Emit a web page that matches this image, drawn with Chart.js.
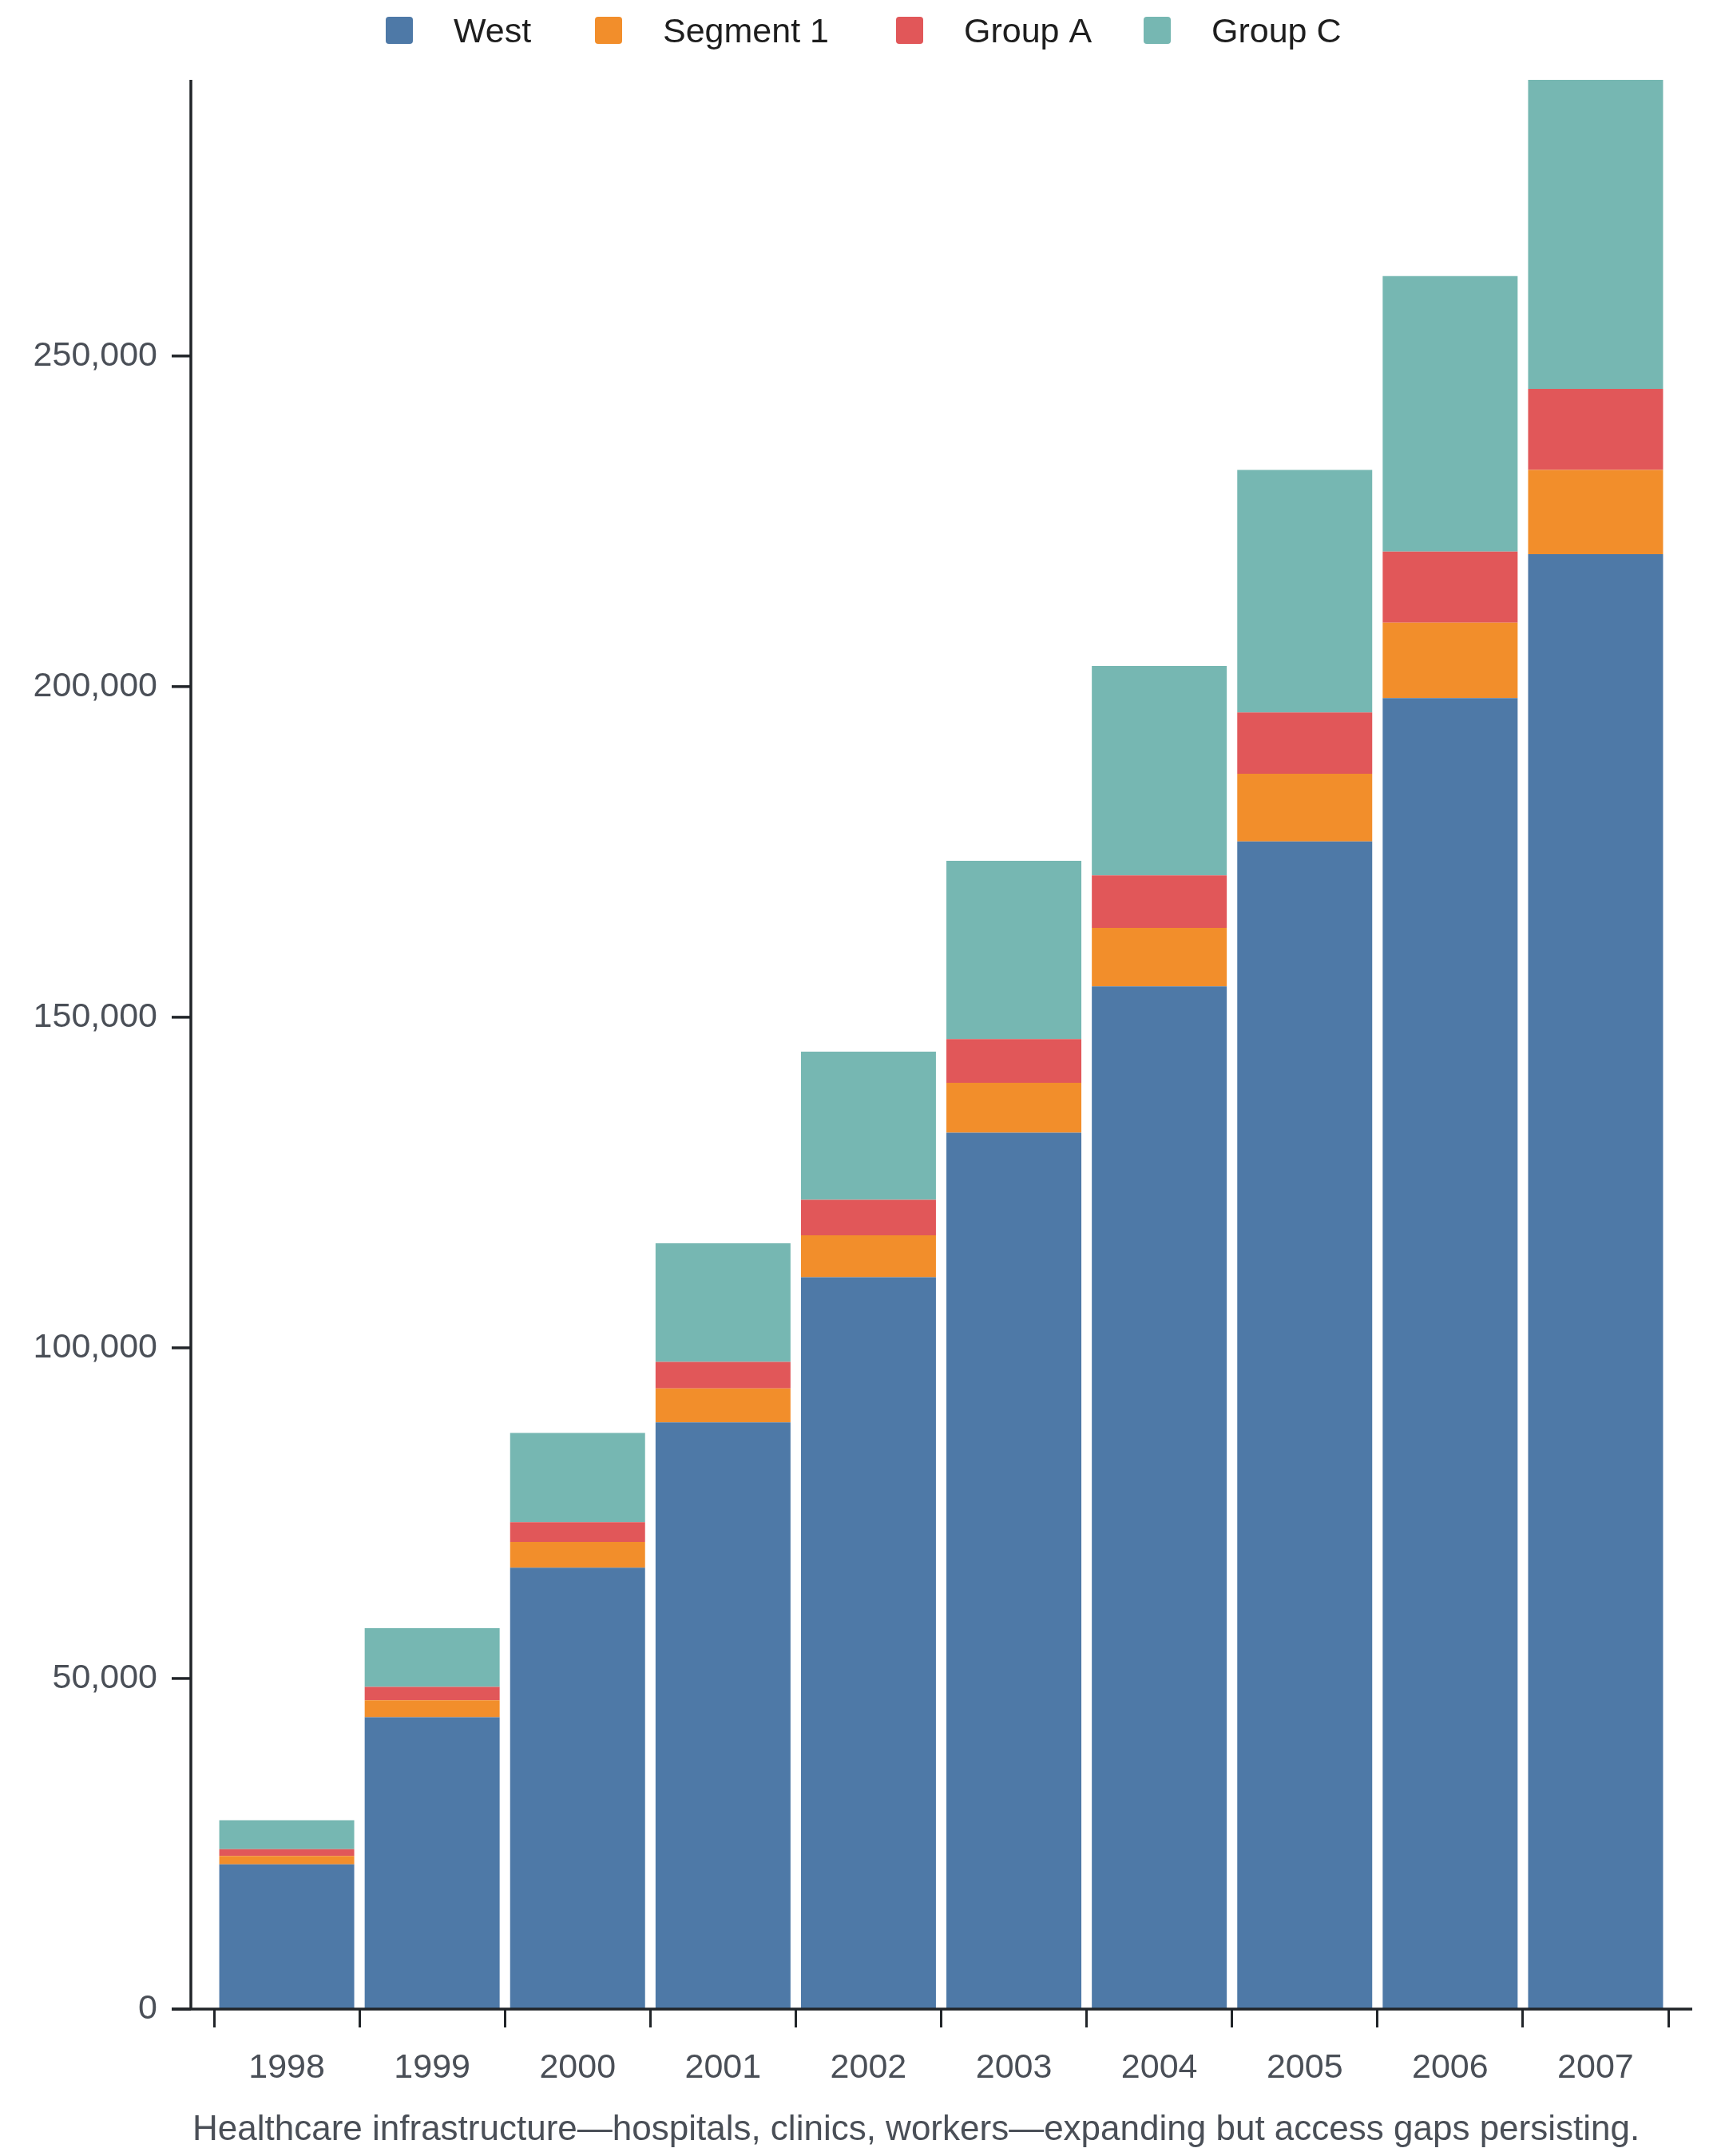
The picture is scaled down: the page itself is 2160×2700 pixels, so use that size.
<!DOCTYPE html>
<html>
<head>
<meta charset="utf-8">
<script src="https://cdn.jsdelivr.net/npm/chart.js@4.4.1/dist/chart.umd.min.js"></script>
<style>
html, body { margin: 0; padding: 0; background: #fff; }
#wrap { width: 2160px; height: 2700px; position: relative; }
</style>
</head>
<body>
<div id="wrap"><canvas id="myChart"></canvas></div>
<script>
// data
var years = ["1998", "1999", "2000", "2001", "2002", "2003", "2004", "2005", "2006", "2007"];
var west = [21900, 44150, 66750, 88730, 110680, 132550, 154670, 176590, 198270, 220040];
var segment1 = [1250, 2560, 3890, 5130, 6350, 7520, 8840, 10220, 11400, 12730];
var groupA = [1040, 2020, 2980, 4030, 5360, 6620, 7930, 9270, 10760, 12250];
var groupC = [4360, 8870, 13520, 17910, 22390, 26970, 31680, 36690, 41650, 46740];
var yTickValues = [0, 50000, 100000, 150000, 200000, 250000];
var caption = "Healthcare infrastructure\u2014hospitals, clinics, workers\u2014expanding but access gaps persisting.";

var FONT = '"Liberation Sans", Arial, sans-serif';
var AXIS = '#212529';
var TEXT = '#4a4f57';

function main(){
    Chart.defaults.font.family = FONT;
    Chart.defaults.font.size = 43;
    drawChart();
}

function stackMax(){
    var m = 0;
    for (var i = 0; i < years.length; i++) {
        var t = west[i] + segment1[i] + groupA[i] + groupC[i];
        if (t > m) m = t;
    }
    return m;
}

// axis lines, y ticks, legend and caption drawn on top
var extras = {
    id: 'extras',
    afterDraw: function(chart){
        var ctx = chart.ctx;
        var area = chart.chartArea;
        var y = chart.scales.y;
        var axisX = area.left - 29;
        var y0 = y.getPixelForValue(0);
        ctx.save();
        ctx.strokeStyle = AXIS;
        ctx.lineWidth = 3.5;
        // y axis line
        ctx.beginPath();
        ctx.moveTo(axisX, area.top);
        ctx.lineTo(axisX, y0);
        ctx.stroke();
        // y tick marks
        y.ticks.forEach(function(t){
            var py = y.getPixelForValue(t.value);
            ctx.beginPath();
            ctx.moveTo(axisX - 24, py);
            ctx.lineTo(axisX, py);
            ctx.stroke();
        });
        // x axis line
        ctx.beginPath();
        ctx.moveTo(axisX - 24, y0);
        ctx.lineTo(area.right + 30, y0);
        ctx.stroke();

        // legend
        var legendX = [483, 745, 1122, 1432];
        ctx.font = '43px ' + FONT;
        ctx.textBaseline = 'alphabetic';
        ctx.textAlign = 'left';
        chart.data.datasets.forEach(function(ds, i){
            var x = legendX[i];
            ctx.fillStyle = ds.backgroundColor;
            ctx.beginPath();
            ctx.roundRect(x, 21, 34, 34, 4);
            ctx.fill();
            ctx.fillStyle = '#1e1e1e';
            ctx.fillText(ds.label, x + 85, 53);
        });

        // caption
        ctx.font = '44px ' + FONT;
        ctx.fillStyle = TEXT;
        ctx.fillText(caption, axisX + 2, 2680);
        ctx.restore();
    }
};

function drawChart(){
    new Chart('myChart', {
        type: 'bar',
        data: {
            labels: years,
            datasets: [
                { label: "West", data: west, backgroundColor: "#4e79a7" },
                { label: "Segment 1", data: segment1, backgroundColor: "#f28e2b" },
                { label: "Group A", data: groupA, backgroundColor: "#e15759" },
                { label: "Group C", data: groupC, backgroundColor: "#76b7b2" }
            ]
        },
        options: {
            responsive: true,
            maintainAspectRatio: false,
            devicePixelRatio: 1,
            animation: false,
            layout: { padding: { top: 100, right: 71, left: 0, bottom: 0 } },
            datasets: {
                bar: { categoryPercentage: 1, barPercentage: 0.928 }
            },
            plugins: {
                legend: { display: false },
                tooltip: { enabled: false },
                title: { display: false }
            },
            scales: {
                x: {
                    stacked: true,
                    afterFit: function(s){ s.height = 184; },
                    border: { display: false },
                    grid: {
                        offset: true,
                        display: true,
                        drawOnChartArea: false,
                        drawTicks: true,
                        tickLength: 23,
                        lineWidth: 3,
                        color: AXIS
                    },
                    ticks: { color: TEXT, padding: 25, maxRotation: 0, font: { size: 43 } }
                },
                y: {
                    stacked: true,
                    min: 0,
                    max: stackMax(),
                    afterFit: function(s){ s.width = 268; },
                    afterBuildTicks: function(s){
                        s.ticks = yTickValues.map(function(v){ return { value: v }; });
                    },
                    border: { display: false },
                    grid: { display: false, drawTicks: false },
                    ticks: {
                        padding: 71,
                        color: TEXT,
                        font: { size: 43 }
                    }
                }
            }
        },
        plugins: [extras]
    });
}

main();
</script>
</body>
</html>
